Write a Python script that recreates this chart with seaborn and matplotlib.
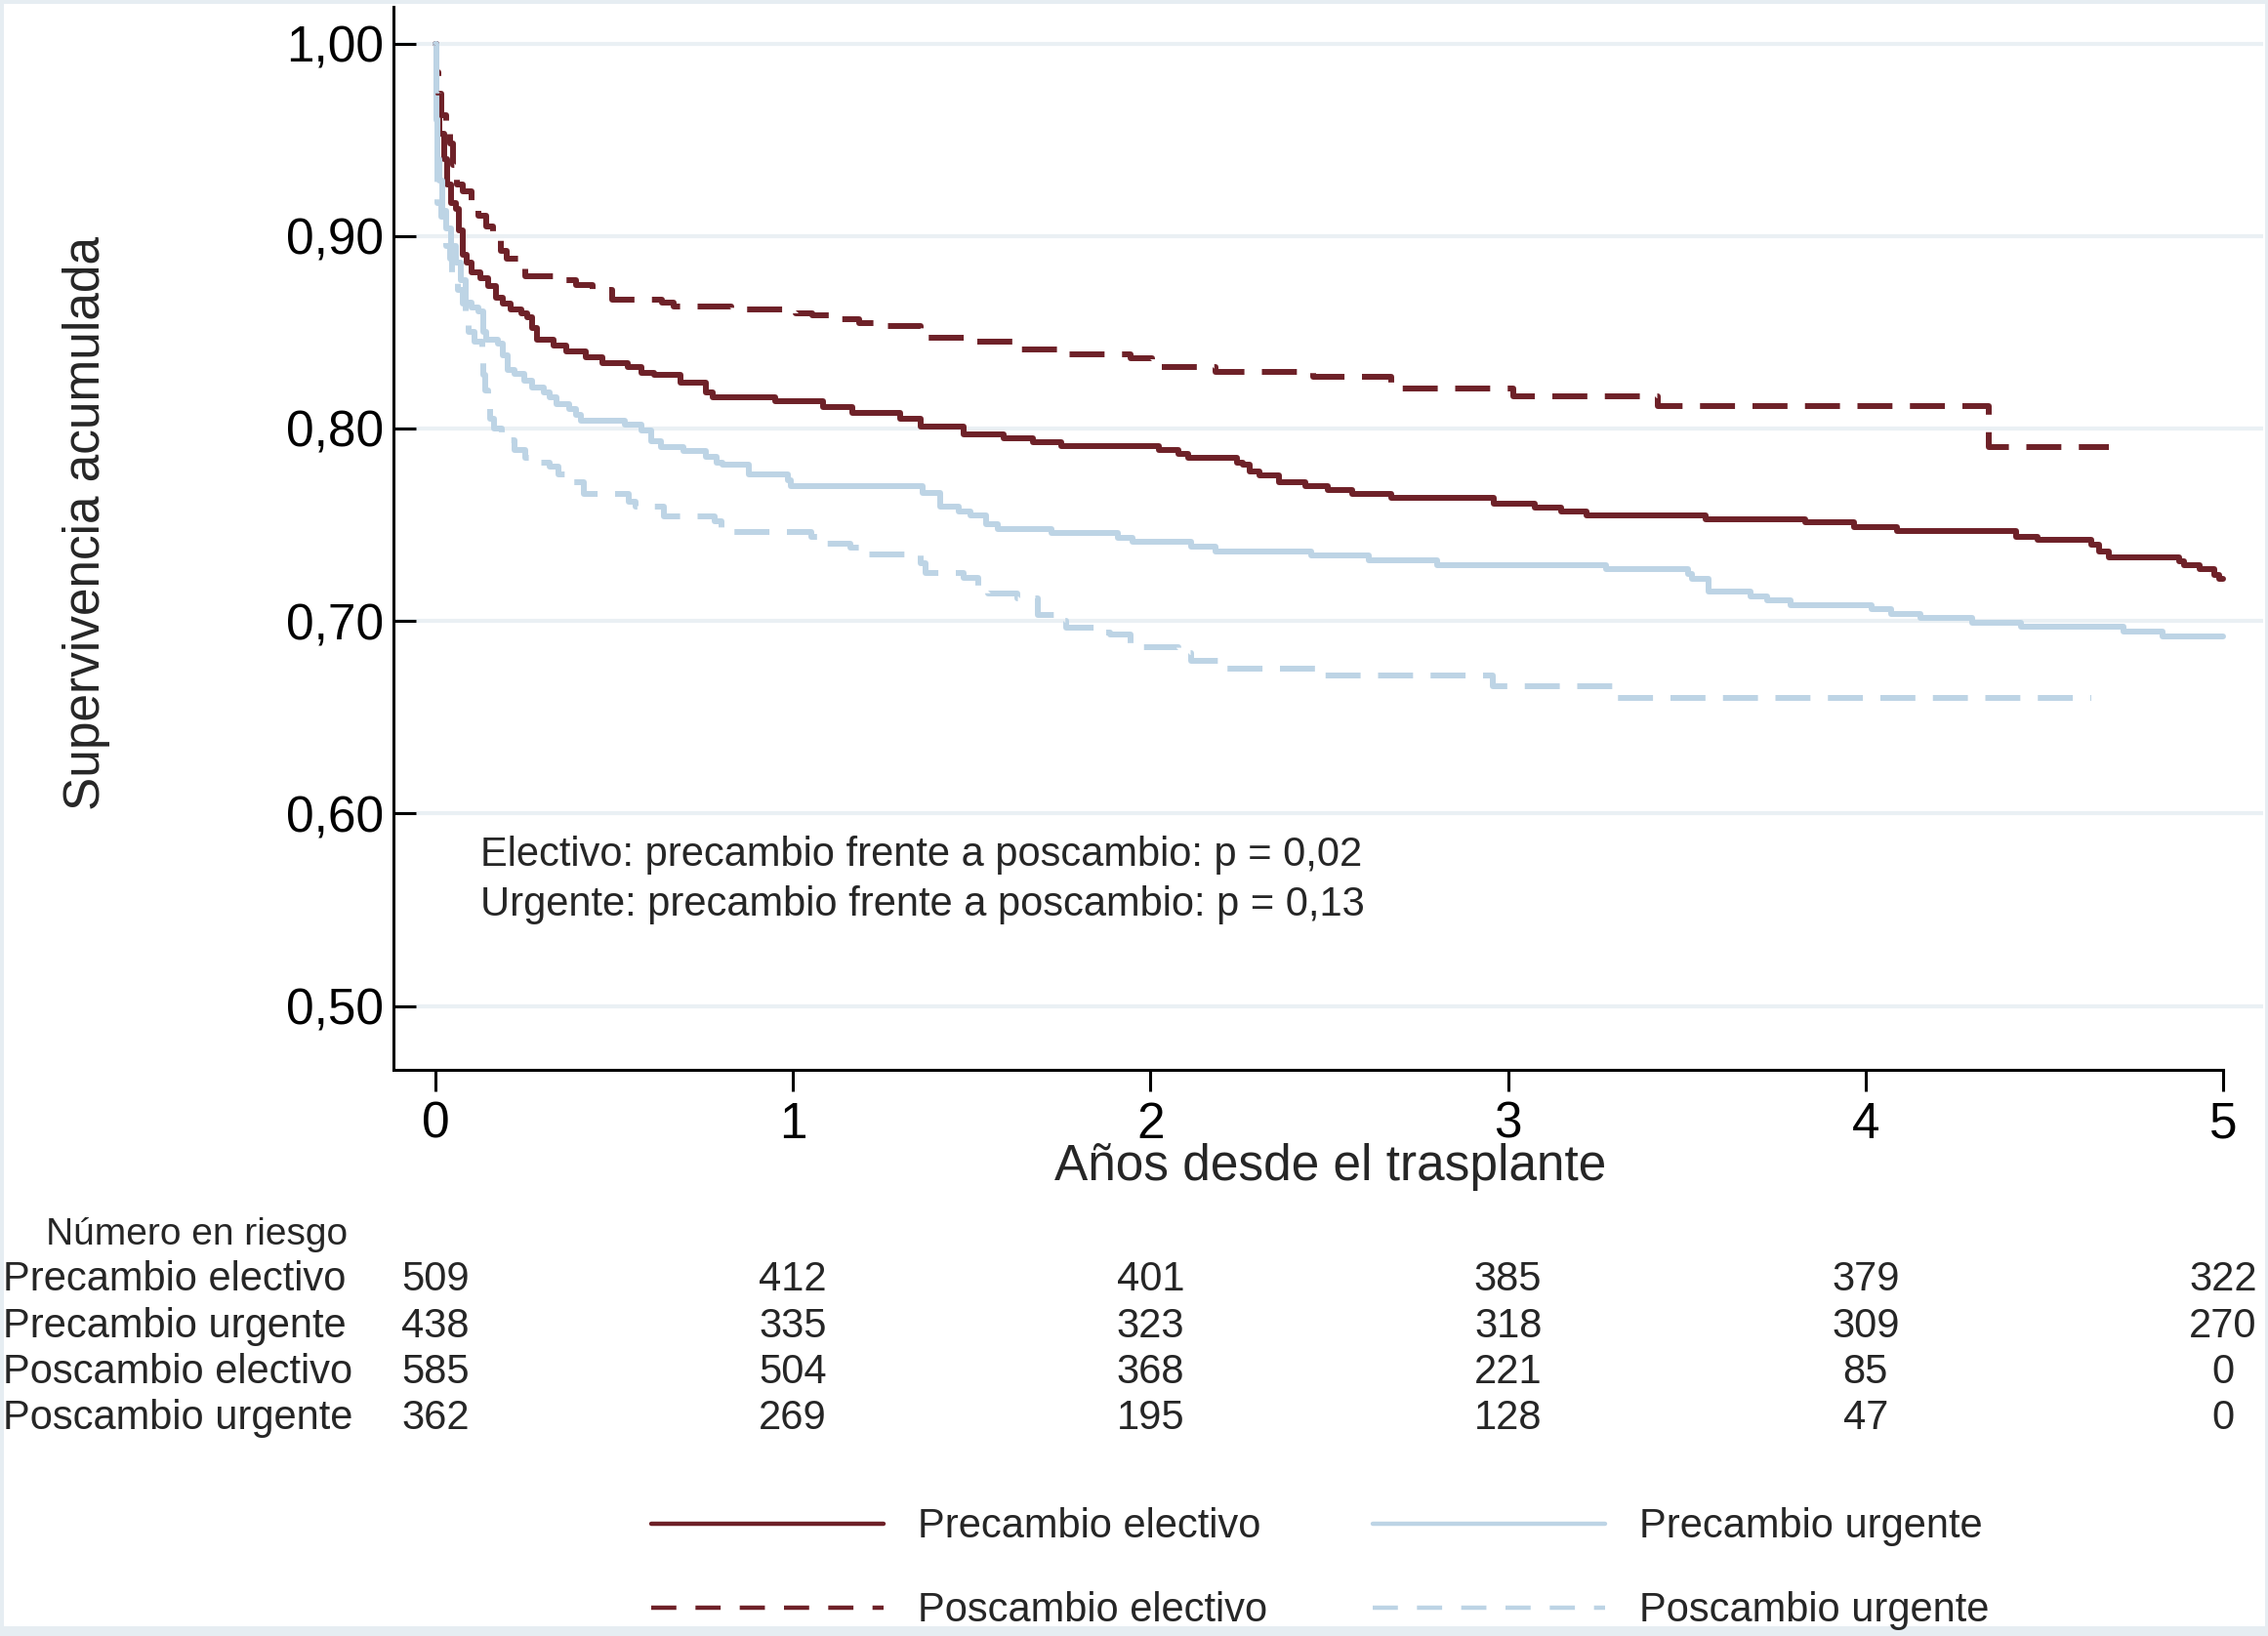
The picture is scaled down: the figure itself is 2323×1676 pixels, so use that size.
import matplotlib
matplotlib.use('Agg')
import matplotlib.pyplot as plt
from matplotlib.lines import Line2D
from matplotlib.patches import Rectangle
from matplotlib.transforms import blended_transform_factory
import pandas as pd
import seaborn as sns

sns.set_theme(style='white')
plt.rcParams['font.family'] = ['Liberation Sans', 'DejaVu Sans']

# Kaplan-Meier steps (years, cumulative survival)
pre_el_t = [0.000, 0.002, 0.006, 0.011, 0.025, 0.034, 0.043, 0.056, 0.066, 0.075, 0.088, 0.102,
            0.125, 0.148, 0.170, 0.188, 0.211, 0.239, 0.257, 0.270, 0.284, 0.330, 0.366, 0.421,
            0.466, 0.539, 0.575, 0.612, 0.685, 0.757, 0.776, 0.949, 1.085, 1.167, 1.299, 1.358,
            1.476, 1.590, 1.672, 1.750, 2.023, 2.077, 2.105, 2.241, 2.259, 2.278, 2.305, 2.359,
            2.432, 2.496, 2.564, 2.674, 2.960, 3.074, 3.147, 3.220, 3.553, 3.830, 3.967, 4.089,
            4.420, 4.480, 4.630, 4.653, 4.680, 4.876, 4.890, 4.935, 4.976, 4.990, 5.000]
pre_el_s = [1.000, 0.974, 0.965, 0.953, 0.940, 0.927, 0.917, 0.914, 0.903, 0.890, 0.886, 0.881,
            0.878, 0.874, 0.868, 0.865, 0.862, 0.860, 0.858, 0.852, 0.846, 0.843, 0.840, 0.837,
            0.834, 0.832, 0.829, 0.828, 0.824, 0.819, 0.816, 0.814, 0.811, 0.808, 0.805, 0.801,
            0.797, 0.795, 0.793, 0.791, 0.789, 0.787, 0.785, 0.7825, 0.781, 0.7775, 0.7755, 0.772,
            0.770, 0.768, 0.766, 0.764, 0.761, 0.759, 0.757, 0.755, 0.753, 0.7515, 0.749, 0.747,
            0.7435, 0.742, 0.7395, 0.736, 0.733, 0.731, 0.729, 0.727, 0.724, 0.722, 0.722]

pre_ur_t = [0.000, 0.002, 0.004, 0.006, 0.011, 0.020, 0.029, 0.043, 0.056, 0.070, 0.084, 0.102,
            0.120, 0.134, 0.143, 0.175, 0.188, 0.202, 0.220, 0.248, 0.270, 0.302, 0.320, 0.339,
            0.375, 0.393, 0.407, 0.530, 0.575, 0.603, 0.630, 0.694, 0.757, 0.785, 0.803, 0.876,
            0.985, 0.994, 1.363, 1.413, 1.463, 1.495, 1.540, 1.572, 1.722, 1.909, 1.949, 2.113,
            2.182, 2.450, 2.610, 2.801, 3.274, 3.502, 3.515, 3.561, 3.679, 3.725, 3.789, 4.016,
            4.071, 4.153, 4.298, 4.435, 4.721, 4.831, 5.000]
pre_ur_s = [1.000, 0.985, 0.962, 0.940, 0.929, 0.913, 0.904, 0.895, 0.886, 0.877, 0.8655, 0.863,
            0.861, 0.850, 0.846, 0.844, 0.838, 0.8305, 0.8285, 0.825, 0.8215, 0.819, 0.816, 0.8125,
            0.810, 0.807, 0.804, 0.802, 0.799, 0.7933, 0.7906, 0.7884, 0.7855, 0.782, 0.781, 0.7764,
            0.773, 0.770, 0.7667, 0.7593, 0.7568, 0.7548, 0.7502, 0.7477, 0.7455, 0.7433, 0.741, 0.7388,
            0.7363, 0.7341, 0.7315, 0.7289, 0.7268, 0.7243, 0.7221, 0.7154, 0.713, 0.7108, 0.7083, 0.7062,
            0.7039, 0.7015, 0.6993, 0.6969, 0.6944, 0.6922, 0.6922]

pos_el_t = [0.000, 0.003, 0.008, 0.015, 0.030, 0.040, 0.050, 0.061, 0.075, 0.102, 0.120, 0.143,
            0.161, 0.182, 0.198, 0.252, 0.339, 0.393, 0.439, 0.493, 0.634, 0.666, 0.826, 1.008,
            1.053, 1.110, 1.185, 1.258, 1.358, 1.372, 1.499, 1.627, 1.759, 1.945, 2.004, 2.182,
            2.455, 2.673, 3.015, 3.420, 4.344, 4.680]
pos_el_s = [1.000, 0.985, 0.974, 0.963, 0.957, 0.948, 0.937, 0.927, 0.923, 0.918, 0.9105, 0.905,
            0.900, 0.8925, 0.888, 0.879, 0.877, 0.8745, 0.872, 0.867, 0.8655, 0.8636, 0.862, 0.860,
            0.8587, 0.857, 0.855, 0.853, 0.8497, 0.8474, 0.8451, 0.8409, 0.8387, 0.8363, 0.8319, 0.8295,
            0.8268, 0.8206, 0.8168, 0.8117, 0.7903, 0.7903]

pos_ur_t = [0.000, 0.002, 0.006, 0.015, 0.029, 0.040, 0.047, 0.062, 0.075, 0.085, 0.093, 0.110,
            0.130, 0.133, 0.140, 0.147, 0.152, 0.165, 0.185, 0.220, 0.250, 0.280, 0.320, 0.345,
            0.380, 0.415, 0.540, 0.560, 0.640, 0.780, 0.800, 1.050, 1.085, 1.160, 1.200, 1.358,
            1.370, 1.477, 1.518, 1.545, 1.627, 1.686, 1.736, 1.763, 1.850, 1.886, 1.945, 2.078,
            2.114, 2.190, 2.478, 2.956, 3.302, 4.630]
pos_ur_s = [1.000, 0.960, 0.917, 0.910, 0.895, 0.888, 0.881, 0.872, 0.865, 0.857, 0.850, 0.845,
            0.839, 0.828, 0.820, 0.814, 0.805, 0.800, 0.794, 0.789, 0.785, 0.782, 0.780, 0.776,
            0.772, 0.766, 0.762, 0.7596, 0.7546, 0.7516, 0.746, 0.7435, 0.7404, 0.738, 0.7347, 0.730,
            0.7251, 0.7226, 0.7184, 0.7142, 0.7117, 0.7032, 0.700, 0.6968, 0.694, 0.6931, 0.6864, 0.6833,
            0.6793, 0.6754, 0.6715, 0.6663, 0.6601, 0.6601]

group_names = ['Precambio electivo', 'Precambio urgente', 'Poscambio electivo', 'Poscambio urgente']

# number at risk table
risk_times = [0, 1, 2, 3, 4, 5]
risk_pre_el = [509, 412, 401, 385, 379, 322]
risk_pre_ur = [438, 335, 323, 318, 309, 270]
risk_pos_el = [585, 504, 368, 221, 85, 0]
risk_pos_ur = [362, 269, 195, 128, 47, 0]

y_ticks = [0.5, 0.6, 0.7, 0.8, 0.9, 1.0]
y_labels = ['0,50', '0,60', '0,70', '0,80', '0,90', '1,00']
x_ticks = [0, 1, 2, 3, 4, 5]

notes = ['Electivo: precambio frente a poscambio: p = 0,02',
         'Urgente: precambio frente a poscambio: p = 0,13']

RED = '#6e2128'
BLUE = '#bdd4e5'
GRID = '#eaf0f4'
LW = 4.3
DASH = (0, (6.0, 3.0))

fig = plt.figure(figsize=(23.23, 16.76), dpi=100)
ax = fig.add_axes([0.1735, 0.3461, 0.8244, 0.6498])

curves = [
    (pre_el_t, pre_el_s, RED, '-'),
    (pre_ur_t, pre_ur_s, BLUE, '-'),
    (pos_el_t, pos_el_s, RED, DASH),
    (pos_ur_t, pos_ur_s, BLUE, DASH),
]
for t, s, c, ls in curves:
    df = pd.DataFrame({'t': t, 's': s})
    sns.lineplot(data=df, x='t', y='s', ax=ax, color=c, linestyle=ls, linewidth=LW,
                 drawstyle='steps-post', estimator=None, errorbar=None, sort=False,
                 legend=False)

ax.set_xlim(-0.1174, 5.112)
ax.set_ylim(0.4669, 1.0191)
ax.set_xlabel('')
ax.set_ylabel('')
ax.set_xticks(x_ticks)
ax.set_xticklabels([str(x) for x in x_ticks])
ax.set_yticks(y_ticks)
ax.set_yticklabels(y_labels)

for side in ['top', 'right']:
    ax.spines[side].set_visible(False)
for side in ['left', 'bottom']:
    ax.spines[side].set_linewidth(2.2)
    ax.spines[side].set_color('black')
ax.spines['bottom'].set_bounds(-0.1174, 5.0)

ax.tick_params(axis='y', left=True, direction='in', length=16.5, width=2.2,
               labelsize=37, pad=7, color='black', labelcolor='black')
ax.tick_params(axis='x', bottom=True, direction='out', length=16, width=2.2,
               labelsize=37, pad=7, color='black', labelcolor='black')
ax.yaxis.grid(True, color=GRID, linewidth=3)
ax.xaxis.grid(False)
ax.set_axisbelow(True)

fig.text(0.5867, 0.2868, 'Años desde el trasplante', ha='center', va='center', fontsize=37)
fig.text(0.0383, 0.680, 'Supervivencia acumulada', rotation=90, ha='center', va='center',
         fontsize=37)

ax.text(0.126, 0.5783, notes[0], fontsize=30, ha='left', va='center')
ax.text(0.126, 0.5527, notes[1], fontsize=30, ha='left', va='center')

# at-risk table below the axis
trans = blended_transform_factory(ax.transData, fig.transFigure)
fig.text(0.1531, 0.2455, 'Número en riesgo', ha='right', va='center', fontsize=28)
rows = [risk_pre_el, risk_pre_ur, risk_pos_el, risk_pos_ur]
row_y = [0.2180, 0.1893, 0.1613, 0.1332]
for name, counts, y in zip(group_names, rows, row_y):
    fig.text(0.0013, y, name, ha='left', va='center', fontsize=30)
    for xi, n in zip(risk_times, counts):
        ax.text(xi, y, str(n), transform=trans, ha='center', va='center', fontsize=30,
                clip_on=False)

LEG_DASH = (0, (5.8, 4.4))
handles = [
    Line2D([], [], color=RED, lw=3.2, linestyle='-'),
    Line2D([], [], color=RED, lw=3.2, linestyle=LEG_DASH),
    Line2D([], [], color=BLUE, lw=3.2, linestyle='-'),
    Line2D([], [], color=BLUE, lw=3.2, linestyle=LEG_DASH),
]
labels = [group_names[0], group_names[2], group_names[1], group_names[3]]
fig.legend(handles, labels, ncol=2, loc='center', bbox_to_anchor=(0.582, 0.041),
           frameon=False, fontsize=30, handlelength=5.7, handletextpad=0.84,
           columnspacing=2.6, labelspacing=1.1, borderpad=0)

# light outer frame
fig.patches.append(Rectangle((0, 0), 1, 1, transform=fig.transFigure, fill=False,
                             edgecolor='#e6edf2', linewidth=5))
fig.patches.append(Rectangle((0, 0), 1, 0.006, transform=fig.transFigure,
                             facecolor='#e6edf2', edgecolor='none'))

fig.savefig('out.png', dpi=100)
